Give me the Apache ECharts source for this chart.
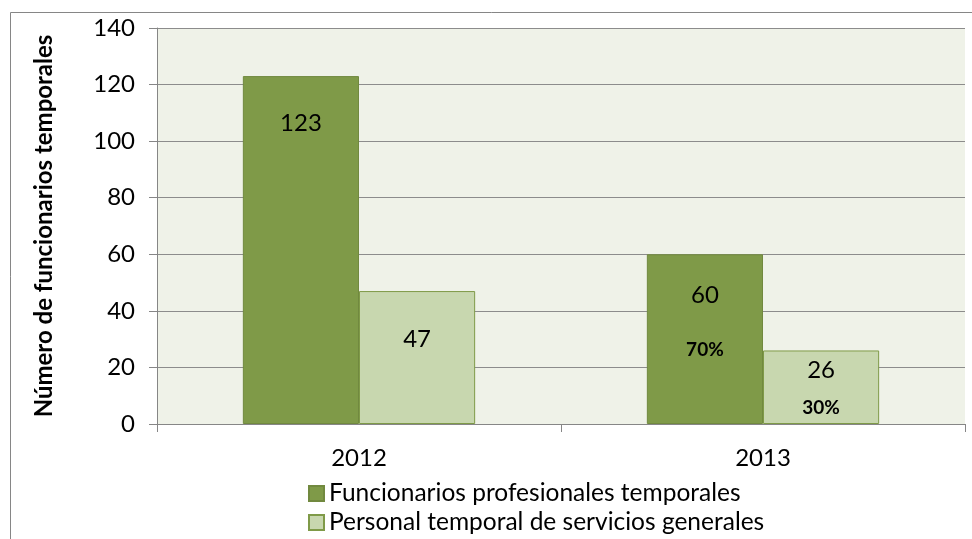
<!DOCTYPE html>
<html>
<head>
<meta charset="utf-8">
<script src="https://cdn.jsdelivr.net/npm/echarts@6/dist/echarts.min.js"></script>
<style>
  html, body { margin: 0; padding: 0; background: #fff; }
  #chart { width: 972px; height: 539px; }
</style>
</head>
<body>
<div id="chart"></div>
<script>
// data
const years = ["2012", "2013"];
const seriesNames = ["Funcionarios profesionales temporales", "Personal temporal de servicios generales"];
const profesionales = [123, 60];
const servicios = [47, 26];
const profesionalesPct = ["", "70%"];
const serviciosPct = ["", "30%"];

const FONT = "Lato";

// label placement inside bars (Excel labels were hand-moved)
const labelLayout = {
  profesionales: [{ distance: 35, gap: 0 }, { distance: 29, gap: 86 }],
  servicios: [{ distance: 36, gap: 0 }, { distance: 8, gap: 50 }]
};

function buildData(values, pcts, layout) {
  return values.map((v, i) => ({
    value: v,
    label: {
      distance: layout[i].distance,
      formatter: pcts[i] ? "{v|" + v + "}\n{p|" + pcts[i] + "}" : "{v|" + v + "}",
      rich: {
        v: { fontFamily: FONT, fontSize: 24, color: "#000", lineHeight: 24 },
        p: { fontFamily: FONT, fontSize: 19, fontWeight: "bold", color: "#000", lineHeight: layout[i].gap }
      }
    }
  }));
}

function legendItem(name, top) {
  return {
    orient: "vertical",
    left: 303, top: top,
    itemWidth: 15, itemHeight: 15,
    icon: "rect",
    textStyle: { fontFamily: FONT, fontSize: 24.5, color: "#000" },
    data: [name]
  };
}

const chart = echarts.init(document.getElementById("chart"));
chart.setOption({
  animation: false,
  graphic: [{
    type: "rect",
    left: 8, top: 10,
    shape: { width: 1000, height: 600 },
    style: { fill: "none", stroke: "#868686", lineWidth: 1 },
    z: -10
  }],
  grid: {
    left: 157, right: 7, top: 28, bottom: 115,
    show: true,
    backgroundColor: "#EFF2E8",
    borderWidth: 0
  },
  legend: [legendItem(seriesNames[0], 476), legendItem(seriesNames[1], 505)],
  xAxis: {
    type: "category",
    data: years,
    axisLine: { show: true, lineStyle: { color: "#868686", width: 1 } },
    axisTick: { show: true, length: 8, lineStyle: { color: "#868686" } },
    axisLabel: { fontFamily: FONT, fontSize: 24, color: "#000", margin: 22 }
  },
  yAxis: {
    type: "value",
    min: 0, max: 140, interval: 20,
    name: "Número de funcionarios temporales",
    nameLocation: "middle",
    nameGap: 101,
    nameRotate: 90,
    nameTextStyle: { fontFamily: FONT, fontSize: 24, fontWeight: "bold", color: "#000" },
    axisLine: { show: true, lineStyle: { color: "#868686", width: 1 } },
    axisTick: { show: true, length: 8, lineStyle: { color: "#868686" } },
    axisLabel: { fontFamily: FONT, fontSize: 24, color: "#000", margin: 22 },
    splitLine: { show: true, lineStyle: { color: "#8C8C8C", width: 1 } }
  },
  series: [
    {
      name: seriesNames[0],
      type: "bar",
      barGap: "0%",
      barCategoryGap: "42.5%",
      itemStyle: { color: "#7F9A48", borderColor: "#71893F", borderWidth: 1 },
      label: { show: true, position: "insideTop" },
      data: buildData(profesionales, profesionalesPct, labelLayout.profesionales)
    },
    {
      name: seriesNames[1],
      type: "bar",
      itemStyle: { color: "#C8D7AF", borderColor: "#7F9A48", borderWidth: 1 },
      label: { show: true, position: "insideTop" },
      data: buildData(servicios, serviciosPct, labelLayout.servicios)
    }
  ]
});
</script>
</body>
</html>
